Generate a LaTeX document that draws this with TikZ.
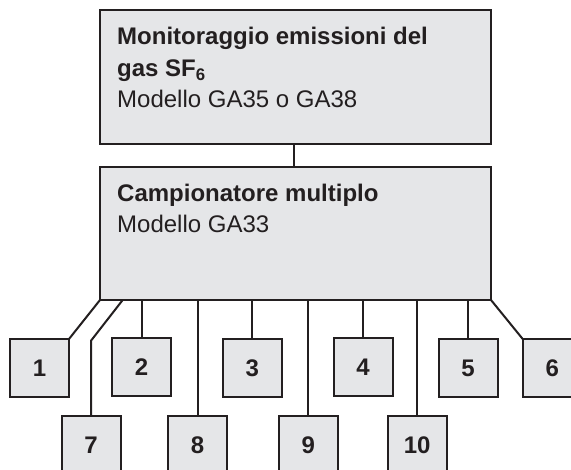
\documentclass[tikz,border=0pt]{standalone}
\usepackage{fontspec}
\setmainfont{Liberation Sans}
\definecolor{boxfill}{HTML}{E5E6E8}
\definecolor{ink}{HTML}{231F20}
\begin{document}
\begin{tikzpicture}[x=1pt,y=-1pt,
  bigbox/.style={draw=ink,fill=boxfill,line width=2.3pt,rectangle,inner sep=0pt,outer sep=0pt,anchor=north west,minimum width=391pt,minimum height=#1},
  numbox/.style={draw=ink,fill=boxfill,line width=2pt,rectangle,inner sep=0pt,outer sep=0pt,minimum width=59pt,minimum height=58pt,anchor=north,font=\fontsize{24}{28}\selectfont\bfseries,text=ink},
  txt/.style={anchor=base west,inner sep=0pt,font=\fontsize{24}{28}\selectfont,text=ink},
  btxt/.style={txt,font=\fontsize{24}{28}\selectfont\bfseries},
  conn/.style={draw=ink,line width=2pt}]
\useasboundingbox (0,0) rectangle (571,470);
\clip (0,0) rectangle (571,470);
% main boxes
\node[bigbox=134pt] (mon) at (100,10) {};
\node[bigbox=133pt] (camp) at (100,167) {};
\node[btxt] (m1) at (117,45) {Monitoraggio emissioni del};
\node[btxt] (m2) at (117,76.5) {gas SF\textsubscript{6}};
\node[txt] (m3) at (117,108) {Modello GA35 o GA38};
\node[btxt] (c1) at (117,201.5) {Campionatore multiplo};
\node[txt] (c2) at (117,232.5) {Modello GA33};
% numbered boxes
\node[numbox] (b1) at (39.5,339) {1};
\node[numbox] (b2) at (141.5,338) {2};
\node[numbox] (b3) at (252.2,339) {3};
\node[numbox] (b4) at (363,338) {4};
\node[numbox] (b5) at (468,339) {5};
\node[numbox] (b6) at (552.2,339) {6};
\node[numbox] (b7) at (91,416) {7};
\node[numbox] (b8) at (197.5,416) {8};
\node[numbox] (b9) at (308.3,416) {9};
\node[numbox] (b10) at (417.2,416) {10};
% connectors
\draw[conn] (mon.south -| 294,0) -- (camp.north -| 294,0);
\draw[conn] (camp.south west) -- (b1.north east);
\coordinate (k7) at (122.7,300);
\coordinate (j7) at (91,340.7);
\draw[conn] (k7) -- (j7) -- (b7.north);
\draw[conn] (b2.north |- camp.south) -- (b2.north);
\draw[conn] (b8.north |- camp.south) -- (b8.north);
\draw[conn] (b3.north |- camp.south) -- (b3.north);
\draw[conn] (b9.north |- camp.south) -- (b9.north);
\draw[conn] (b4.north |- camp.south) -- (b4.north);
\draw[conn] (b10.north |- camp.south) -- (b10.north);
\draw[conn] (b5.north |- camp.south) -- (b5.north);
\draw[conn] (camp.south east) -- (b6.north west);
\end{tikzpicture}
\end{document}
